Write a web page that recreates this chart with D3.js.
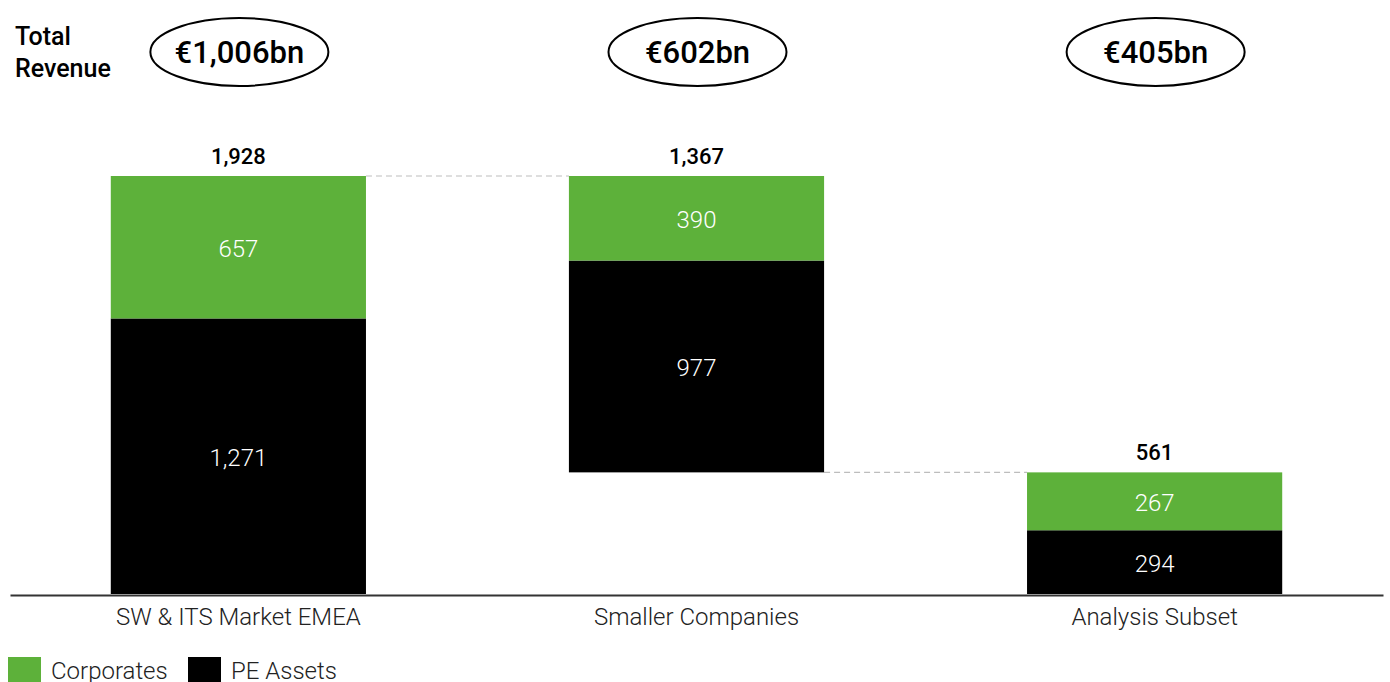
<!doctype html>
<html>
<head>
  <meta charset="utf-8">
  <title>SW & ITS Market EMEA</title>
  <script src="https://cdnjs.cloudflare.com/ajax/libs/d3/7.8.5/d3.min.js"></script>
  <style>
    body { margin: 0; background: #fff; font-family: Roboto, "Noto Sans", sans-serif; }
    svg { display: block; }
  </style>
</head>
<body>
  <div id="chart"></div>
  <script>
    // data
    const categories = ['SW & ITS Market EMEA', 'Smaller Companies', 'Analysis Subset'];
    const peAssets   = [1271, 977, 294];
    const corporates = [657, 390, 267];
    const bases      = [0, 561, 0];          // waterfall offset for the middle bar
    const revenue    = ['€1,006bn', '€602bn', '€405bn'];
    const legendItems = [
      { label: 'Corporates', color: '#5db13a' },
      { label: 'PE Assets',  color: '#000000' }
    ];

    const W = 1390, H = 682;
    const svg = d3.select('#chart').append('svg')
      .attr('width', W).attr('height', H);

    const x = d3.scaleBand()
      .domain(categories)
      .range([10, 1383])
      .paddingInner(0.443)
      .paddingOuter(0.22);

    const y = d3.scaleLinear()
      .domain([0, 1928])
      .range([594, 176]);

    const rows = categories.map((c, i) => ({
      cat: c,
      base: bases[i],
      pe: peAssets[i],
      corp: corporates[i],
      total: peAssets[i] + corporates[i],
      rev: revenue[i]
    }));

    // dashed connectors between bars
    const connectors = [
      { from: 0, to: 1, v: rows[0].base + rows[0].total },
      { from: 1, to: 2, v: rows[1].base }
    ];
    svg.selectAll('line.conn')
      .data(connectors)
      .join('line')
      .attr('class', 'conn')
      .attr('x1', d => x(categories[d.from]) + x.bandwidth())
      .attr('x2', d => x(categories[d.to]))
      .attr('y1', d => y(d.v))
      .attr('y2', d => y(d.v))
      .attr('stroke', '#bdbdbd')
      .attr('stroke-width', 1.2)
      .attr('stroke-dasharray', '6,4');

    const g = svg.selectAll('g.bar')
      .data(rows)
      .join('g')
      .attr('class', 'bar')
      .attr('transform', d => `translate(${x(d.cat)},0)`);

    // PE Assets (bottom)
    g.append('rect')
      .attr('y', d => y(d.base + d.pe))
      .attr('height', d => y(d.base) - y(d.base + d.pe))
      .attr('width', x.bandwidth())
      .attr('fill', '#000');

    // Corporates (top)
    g.append('rect')
      .attr('y', d => y(d.base + d.pe + d.corp))
      .attr('height', d => y(d.base + d.pe) - y(d.base + d.pe + d.corp))
      .attr('width', x.bandwidth())
      .attr('fill', '#5db13a');

    const fmt = d3.format(',');

    g.append('text')
      .attr('x', x.bandwidth() / 2)
      .attr('y', d => (y(d.base) + y(d.base + d.pe)) / 2 + 1)
      .attr('dy', '0.35em')
      .attr('text-anchor', 'middle')
      .attr('fill', '#fff')
      .style('font-size', '24px')
      .style('font-weight', 300)
      .text(d => fmt(d.pe));

    g.append('text')
      .attr('x', x.bandwidth() / 2)
      .attr('y', d => (y(d.base + d.pe) + y(d.base + d.total)) / 2 + 1)
      .attr('dy', '0.35em')
      .attr('text-anchor', 'middle')
      .attr('fill', '#fff')
      .style('font-size', '24px')
      .style('font-weight', 300)
      .text(d => fmt(d.corp));

    // totals above bars
    g.append('text')
      .attr('x', x.bandwidth() / 2)
      .attr('y', d => y(d.base + d.total) - 12)
      .attr('text-anchor', 'middle')
      .attr('fill', '#000')
      .style('font-size', '22px')
      .style('font-weight', 500)
      .text(d => fmt(d.total));

    // x axis
    const axis = svg.append('g')
      .attr('transform', `translate(0,${y(0) + 1})`)
      .call(d3.axisBottom(x).tickSize(0).tickPadding(13));
    axis.select('.domain').attr('stroke', '#333').attr('stroke-width', 2);
    axis.selectAll('text')
      .attr('fill', '#222')
      .style('font-family', 'Roboto, sans-serif')
      .style('font-size', '24px')
      .style('font-weight', 300);

    // revenue ellipses
    const revG = svg.selectAll('g.rev')
      .data(rows)
      .join('g')
      .attr('class', 'rev')
      .attr('transform', d => `translate(${x(d.cat) + x.bandwidth() / 2 + 1},52)`);
    revG.append('ellipse')
      .attr('rx', 89).attr('ry', 34)
      .attr('fill', 'none')
      .attr('stroke', '#000')
      .attr('stroke-width', 2);
    revG.append('text')
      .attr('text-anchor', 'middle')
      .attr('dy', '0.36em')
      .style('font-size', '31px')
      .style('font-weight', 500)
      .text(d => d.rev);

    const lbl = svg.append('text')
      .attr('x', 15)
      .style('font-size', '25px')
      .style('font-weight', 500);
    lbl.append('tspan').attr('x', 15).attr('y', 45).text('Total');
    lbl.append('tspan').attr('x', 15).attr('y', 77).text('Revenue');

    // legend
    const leg = svg.selectAll('g.legend')
      .data(legendItems)
      .join('g')
      .attr('class', 'legend')
      .attr('transform', (d, i) => `translate(${8 + i * 180},657)`);
    leg.append('rect')
      .attr('width', 33).attr('height', 30)
      .attr('fill', d => d.color);
    leg.append('text')
      .attr('x', 43)
      .attr('y', 22)
      .attr('fill', '#222')
      .style('font-size', '24px')
      .style('font-weight', 300)
      .text(d => d.label);
  </script>
</body>
</html>
